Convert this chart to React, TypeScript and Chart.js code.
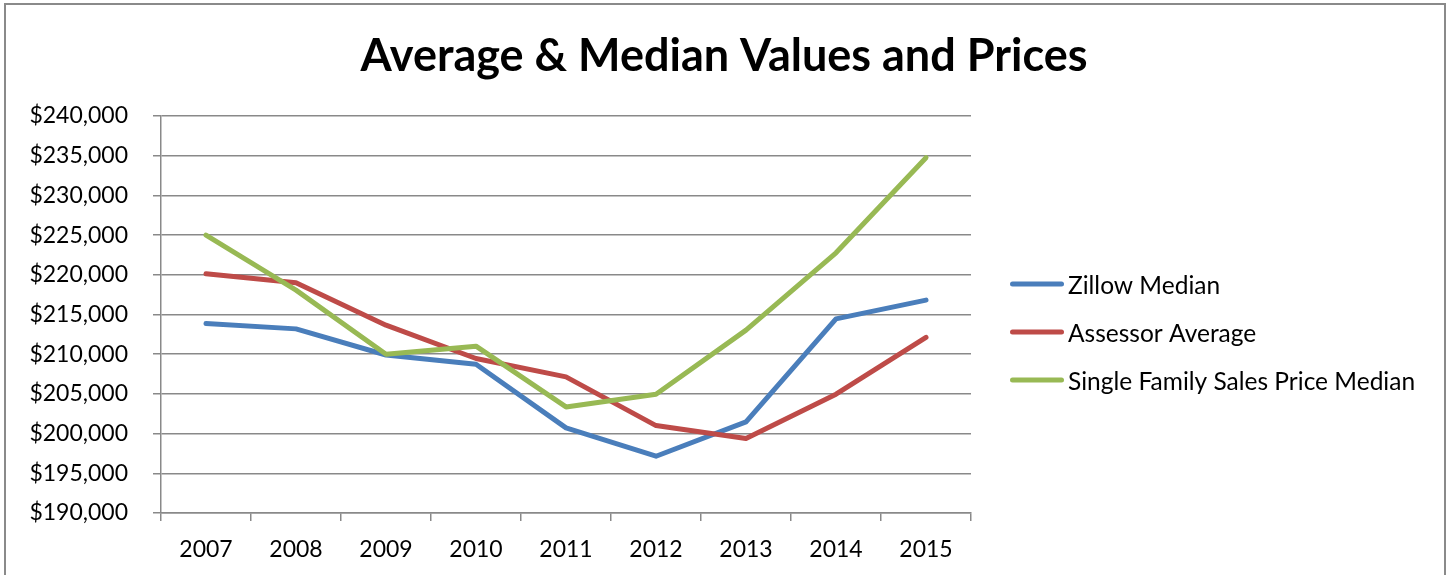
import React, { useEffect, useRef } from 'react';
import { Chart, registerables } from 'chart.js';

Chart.register(...registerables);

const chartTitle = 'Average & Median Values and Prices';
const years = ['2007', '2008', '2009', '2010', '2011', '2012', '2013', '2014', '2015'];
const seriesLabels = ['Zillow Median', 'Assessor Average', 'Single Family Sales Price Median'];
const zillowMedian = [213870, 213190, 209900, 208740, 200720, 197150, 201470, 214450, 216810];
const assessorAverage = [220120, 218990, 213660, 209460, 207140, 201010, 199380, 204960, 212110];
const singleFamilyMedian = [225000, 218070, 210000, 211010, 203360, 204960, 213030, 222770, 234750];
const yMin = 190000;
const yMax = 240000;
const yStep = 5000;

const W = 1448;
const H = 575;
const FONT = 'Lato, "Open Sans", sans-serif';
const GRID = '#898989';

const framePlugin = {
  id: 'frame',
  beforeDraw(chart: any) {
    const ctx = chart.ctx;
    ctx.save();
    ctx.fillStyle = '#ffffff';
    ctx.fillRect(0, 0, chart.width, chart.height);
    ctx.strokeStyle = '#8a8a8a';
    ctx.lineWidth = 2;
    ctx.strokeRect(5, 4, 1440, 620);
    ctx.restore();
  },
};

const excelLegend = {
  id: 'excelLegend',
  afterDraw(chart: any) {
    const ctx = chart.ctx;
    const x0 = 1010;
    const lineLen = 54;
    const y0 = 284;
    const gap = 48;
    ctx.save();
    chart.data.datasets.forEach((ds: any, i: number) => {
      const y = y0 + i * gap;
      ctx.strokeStyle = ds.borderColor;
      ctx.lineWidth = 5;
      ctx.lineCap = 'round';
      ctx.beginPath();
      ctx.moveTo(x0 + 2.5, y);
      ctx.lineTo(x0 + lineLen - 2.5, y);
      ctx.stroke();
      ctx.fillStyle = '#000000';
      ctx.font = `24.5px ${FONT}`;
      ctx.textBaseline = 'middle';
      ctx.textAlign = 'left';
      ctx.fillText(ds.label, x0 + lineLen + 4, y + 2);
    });
    ctx.restore();
  },
};

export default function App() {
  const ref = useRef<HTMLCanvasElement | null>(null);

  useEffect(() => {
    if (!ref.current) return;
    const mk = (label: string, data: number[], color: string, order: number) => ({
      label,
      data,
      borderColor: color,
      backgroundColor: color,
      borderWidth: 5,
      pointRadius: 0,
      pointHoverRadius: 0,
      tension: 0,
      fill: false,
      borderJoinStyle: 'round' as const,
      borderCapStyle: 'round' as const,
      order,
      yAxisID: 'y',
    });
    const chart = new Chart(ref.current, {
      type: 'line',
      data: {
        labels: years,
        datasets: [
          mk(seriesLabels[0], zillowMedian, '#4A7EBB', 2),
          mk(seriesLabels[1], assessorAverage, '#BE4B48', 1),
          mk(seriesLabels[2], singleFamilyMedian, '#98B954', 0),
        ],
      },
      options: {
        responsive: false,
        animation: false,
        layout: { padding: 0 },
        plugins: {
          legend: { display: false },
          tooltip: { enabled: false },
          title: {
            display: true,
            text: chartTitle,
            color: '#000000',
            font: { family: FONT, size: 45, weight: 'bold', lineHeight: 1.2 },
            padding: { top: 29, bottom: 33 },
          },
        },
        scales: {
          x: {
            type: 'category',
            offset: true,
            grid: {
              display: true,
              drawOnChartArea: false,
              drawTicks: true,
              tickLength: 8,
              color: GRID,
              lineWidth: 1.5,
              offset: true,
            },
            border: { display: true, color: GRID, width: 1.5 },
            ticks: { color: '#000000', font: { family: FONT, size: 23 }, padding: 15, maxRotation: 0 },
            afterFit: (s: any) => {
              s.height = 62;
            },
          },
          y: {
            position: 'left',
            min: yMin,
            max: yMax,
            grid: { color: GRID, lineWidth: 1.5, tickLength: 8, drawTicks: true },
            border: { display: true, color: GRID, width: 1.5 },
            ticks: {
              stepSize: yStep,
              color: '#000000',
              font: { family: FONT, size: 23 },
              padding: 25,
              callback: (v: any) => '$' + Number(v).toLocaleString('en-US'),
            },
            afterFit: (s: any) => {
              s.width = 161;
            },
          },
          legendSpace: {
            type: 'linear',
            position: 'right',
            display: true,
            grid: { display: false, drawOnChartArea: false, drawTicks: false },
            border: { display: false },
            ticks: { display: false },
            afterFit: (s: any) => {
              s.width = W - 971;
            },
          },
        },
      },
      plugins: [framePlugin, excelLegend],
    });
    return () => chart.destroy();
  }, []);

  return (
    <div style={{ position: 'absolute', left: 0, top: 0, width: W, height: H, background: '#fff' }}>
      <canvas ref={ref} width={W} height={H} style={{ display: 'block', width: W, height: H }} />
    </div>
  );
}
